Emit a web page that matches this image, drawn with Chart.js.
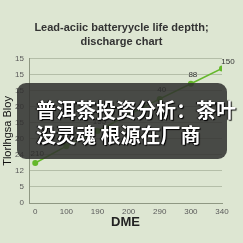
<!DOCTYPE html>
<html>
<head>
<meta charset="utf-8">
<script src="https://cdn.jsdelivr.net/npm/chart.js@4/dist/chart.umd.min.js"></script>
<style>
  html, body { margin: 0; padding: 0; background: #dde6d2; }
  #wrap { position: relative; width: 243px; height: 243px; overflow: hidden; background: #dde6d2; }
  #c { position: absolute; left: 0; top: 0; }
  #overlay {
    position: absolute; left: 17px; top: 83px; width: 210px; height: 76px;
    background: rgba(48, 48, 46, 0.86); border-radius: 9px;
  }
  .ol {
    position: absolute; left: 36px; color: #ffffff; white-space: nowrap;
    font-family: "Noto Sans CJK SC", sans-serif; font-weight: 700; font-size: 20px;
    line-height: 24px; text-shadow: 1px 1px 1px #000, -1px 0 1px #000;
  }
</style>
</head>
<body>
<div id="wrap">
  <canvas id="c" width="243" height="243"></canvas>
  <div id="overlay"></div>
  <div class="ol" style="top:98px">普洱茶投资分析：茶叶</div>
  <div class="ol" style="top:123px">没灵魂 根源在厂商</div>
</div>
<script>
const titleLines = ["Lead-aciic batteryycle life deptth;", "discharge chart"];
const xLabels = ["0", "100", "190", "200", "290", "300", "340"];
const yLabels = ["0", "5", "12", "24", "20", "15", "20", "15", "15", "15"];
const values = [2.5, 3.55, 4.5, 5.5, 6.5, 7.45, 8.4];
const pointLabels = ["210", "", "155", "", "40", "88", "150"];
const xTitle = "DME";
const yTitle = "Tlorlhgsa Bloy";

const labelPlugin = {
  id: 'pointLabels',
  afterDatasetsDraw(chart) {
    const ctx = chart.ctx;
    const meta = chart.getDatasetMeta(0);
    ctx.save();
    ctx.font = '8px "Liberation Sans", Arial, sans-serif';
    ctx.fillStyle = '#333';
    ctx.textAlign = 'center';
    ctx.textBaseline = 'middle';
    meta.data.forEach((pt, i) => {
      const t = pointLabels[i];
      if (!t) return;
      const dx = i === values.length - 1 ? 6 : 2;
      const dy = i === values.length - 1 ? -7 : -9;
      ctx.fillText(t, pt.x + dx, pt.y + dy);
    });
    ctx.restore();
  }
};

new Chart(document.getElementById('c'), {
  type: 'line',
  data: {
    datasets: [{
      data: values.map((v, i) => ({ x: i, y: v })),
      borderColor: '#64b82a',
      backgroundColor: '#64b82a',
      borderWidth: 1.5,
      pointRadius: 3,
      pointBorderWidth: 0,
      tension: 0
    }]
  },
  options: {
    responsive: false,
    animation: false,
    layout: { padding: { top: 8, left: 0, right: 0, bottom: 10 } },
    plugins: {
      legend: { display: false },
      tooltip: { enabled: false },
      title: {
        display: true,
        text: titleLines,
        color: '#333',
        font: { family: '"Liberation Sans", Arial, sans-serif', size: 11, weight: 'bold', lineHeight: 1.36 },
        padding: { top: 12, bottom: 9 }
      }
    },
    scales: {
      x: {
        type: 'linear',
        min: -0.2, max: 6,
        afterFit(s) { s.height = 30; },
        border: { display: true, color: '#8f9883', width: 1 },
        grid: { display: false, drawTicks: false },
        ticks: {
          stepSize: 1, includeBounds: false, padding: 4, maxRotation: 0, autoSkip: false,
          color: '#5a5a5a',
          font: { family: '"Liberation Sans", Arial, sans-serif', size: 8 },
          callback: v => xLabels[v] ?? ''
        },
        title: {
          display: true, text: xTitle, color: '#222',
          font: { family: '"Liberation Sans", Arial, sans-serif', size: 13, weight: 'bold' },
          padding: { top: 0, bottom: 3 }
        }
      },
      y: {
        type: 'linear',
        min: 0, max: 9,
        afterFit(s) { s.width = 29; },
        border: { display: true, color: '#8f9883', width: 1 },
        grid: { color: '#b4bea8', lineWidth: 1, drawTicks: false },
        ticks: {
          stepSize: 1, padding: 5, color: '#5a5a5a',
          font: { family: '"Liberation Sans", Arial, sans-serif', size: 8 },
          callback: v => yLabels[v] ?? ''
        },
        title: {
          display: true, text: yTitle, color: '#111',
          font: { family: '"Liberation Sans", Arial, sans-serif', size: 11 },
          padding: { top: 1, bottom: 0 }
        }
      },
      spacer: {
        type: 'linear',
        position: 'right',
        min: 0, max: 9,
        afterFit(s) { s.width = 21; },
        border: { display: false },
        grid: { display: false, drawTicks: false },
        ticks: { display: false }
      }
    }
  },
  plugins: [labelPlugin]
});
</script>
</body>
</html>
